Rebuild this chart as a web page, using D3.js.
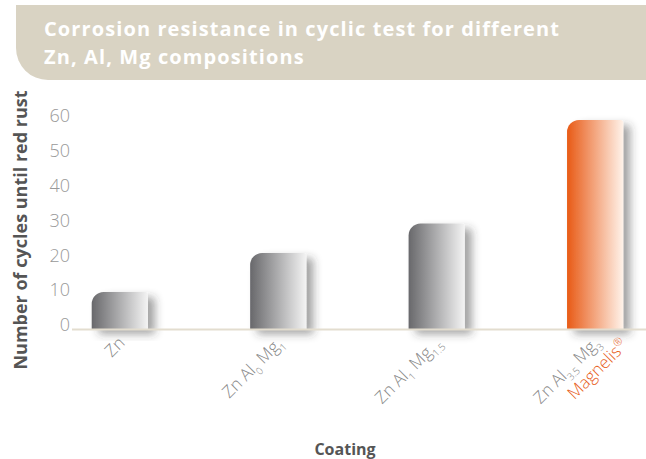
<!DOCTYPE html>
<html><head><meta charset="utf-8">
<script src="https://cdn.jsdelivr.net/npm/d3@7/dist/d3.min.js"></script>
<style>body{margin:0;background:#fff}svg{display:block}</style>
</head><body>
<svg id="c" width="646" height="459"></svg>
<script>
const categories = ["Zn", "Zn Al0 Mg1", "Zn Al1 Mg1.5", "Zn Al3.5 Mg3"];
const values = [10.6, 21.8, 30.3, 60];
const labelParts = [
  [["Zn", false]],
  [["Zn Al", false], ["0", true], [" Mg", false], ["1", true]],
  [["Zn Al", false], ["1", true], [" Mg", false], ["1.5", true]],
  [["Zn Al", false], ["3.5", true], [" Mg", false], ["3", true]]
];
const highlight = [false, false, false, true];
const yTicks = [0, 10, 20, 30, 40, 50, 60];
const title = ["Corrosion resistance in cyclic test for different", "Zn, Al, Mg compositions"];

const svg = d3.select("#c");
const defs = svg.append("defs");
function grad(id, c0, c1) {
  const g = defs.append("linearGradient").attr("id", id).attr("x1", "0").attr("x2", "1").attr("y1", "0").attr("y2", "0");
  g.append("stop").attr("offset", "0").attr("stop-color", c0);
  g.append("stop").attr("offset", "1").attr("stop-color", c1);
}
grad("gGray", "#68686b", "#f4f4f4");
grad("gOrange", "#e85a16", "#fff3ea");
const f = defs.append("filter").attr("id", "sh").attr("x", "-30%").attr("y", "-30%").attr("width", "170%").attr("height", "160%");
f.append("feDropShadow").attr("dx", 7).attr("dy", 5).attr("stdDeviation", 4).attr("flood-color", "#333").attr("flood-opacity", 0.45);

// banner
const bx = 16, by = 5, bb = 80, br = 32;
svg.append("path")
  .attr("d", `M${bx},${by} H646 V${bb} H${bx + br} A${br},${br} 0 0 1 ${bx},${bb - br} Z`)
  .attr("fill", "#d9d3c3");
svg.append("g").selectAll("text").data(title).join("text")
  .attr("x", 44).attr("y", (d, i) => 36 + i * 27.5)
  .attr("fill", "#fff").attr("font-family", "Open Sans").attr("font-weight", 700)
  .attr("font-size", 20).attr("letter-spacing", 1.1).text(d => d);

const x = d3.scaleBand().domain(categories).range([41, 674]).paddingInner(0.645).paddingOuter(0.32);
const y = d3.scaleLinear().domain([0, 60]).range([329, 120]);

// y tick labels
svg.append("g").selectAll("text").data(yTicks).join("text")
  .attr("x", 70).attr("y", d => y(d) - 4).attr("dy", "0.35em")
  .attr("text-anchor", "end").attr("fill", "#999")
  .attr("font-family", "Open Sans").attr("font-weight", 300).attr("font-size", 18)
  .text(d => d);

// bars
const bw = x.bandwidth();
function barPath(x0, y0, w, h) {
  const r = 12, r2 = 3;
  return `M${x0},${y0 + h} V${y0 + r} A${r},${r} 0 0 1 ${x0 + r},${y0} H${x0 + w - r2} A${r2},${r2} 0 0 1 ${x0 + w},${y0 + r2} V${y0 + h} Z`;
}
svg.append("g").selectAll("path").data(categories).join("path")
  .attr("d", (d, i) => barPath(x(d), y(values[i]), bw, y(0) - y(values[i])))
  .attr("fill", (d, i) => highlight[i] ? "url(#gOrange)" : "url(#gGray)")
  .attr("filter", "url(#sh)");

// baseline
svg.append("line").attr("x1", 72).attr("x2", 646).attr("y1", y(0) + 0.5).attr("y2", y(0) + 0.5)
  .attr("stroke", "#e3ddcf").attr("stroke-width", 2);

// x labels
categories.forEach((c, i) => {
  const cx = x(c) + bw / 2;
  const g = svg.append("g").attr("transform", `translate(${cx + 6},${y(0) + 15}) rotate(-45)`);
  const t = g.append("text").attr("text-anchor", "end").attr("fill", "#888")
    .attr("font-family", "Open Sans").attr("font-weight", 300).attr("font-size", 17);
  let cur = 0;
  labelParts[i].forEach(([s, sub]) => {
    const target = sub ? 5 : 0;
    t.append("tspan").text(s)
      .attr("font-size", sub ? 10 : 17)
      .attr("dy", target - cur);
    cur = target;
  });
  if (highlight[i]) {
    const t2 = g.append("text").attr("text-anchor", "end").attr("fill", "#e8601c")
      .attr("x", 18).attr("y", 21)
      .attr("font-family", "Open Sans").attr("font-weight", 300).attr("font-size", 17);
    t2.append("tspan").text("Magnelis");
    t2.append("tspan").text("®").attr("font-size", 11).attr("dy", -7);
  }
});

// axis titles
svg.append("text").attr("transform", `translate(27,230) rotate(-90)`)
  .attr("text-anchor", "middle").attr("fill", "#555").attr("font-family", "Open Sans")
  .attr("font-weight", 700).attr("font-size", 18).text("Number of cycles until red rust");
svg.append("text").attr("x", 345).attr("y", 455)
  .attr("text-anchor", "middle").attr("fill", "#555").attr("font-family", "Open Sans")
  .attr("font-weight", 700).attr("font-size", 16).text("Coating");
</script>
</body></html>
